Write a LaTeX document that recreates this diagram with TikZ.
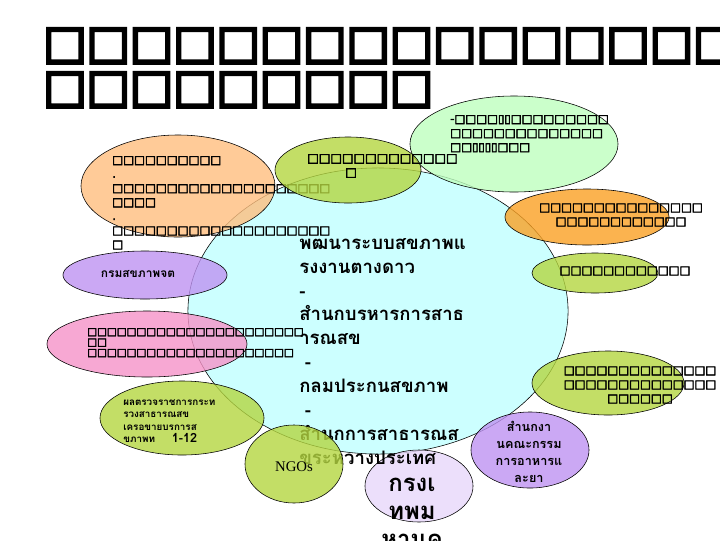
\documentclass[tikz,border=0pt]{standalone}
\usepackage{fontspec}
\setmainfont{Liberation Serif}
\newfontfamily\thaifont[Script=Thai]{Loma}
\newfontfamily\boxfont[FakeBold=4]{DejaVu Sans}
\newfontfamily\titlefont[FakeBold=6]{DejaVu Sans}
\usetikzlibrary{shapes.geometric}
\definecolor{hubcyan}{HTML}{CCFFFF}
\definecolor{peach}{HTML}{FFBF7F}
\definecolor{leafgreen}{HTML}{B4D640}
\definecolor{mintgreen}{HTML}{BFFFBF}
\definecolor{amber}{HTML}{FAA124}
\definecolor{lilac}{HTML}{BF93F2}
\definecolor{paleLilac}{HTML}{E8D7FA}
\definecolor{rose}{HTML}{F693C8}
\tikzset{
  bubble/.style 2 args={ellipse, draw=black, line width=0.4pt, inner sep=0pt,
    minimum width=#1*0.05cm, minimum height=#2*0.05cm, fill opacity=0.8},
  tofu/.style={font=\boxfont\fontsize{8.2}{10}\selectfont, inner sep=0pt, align=left},
  thai/.style={inner sep=0pt},
}
\begin{document}
\begin{tikzpicture}[x=0.025cm, y=-0.025cm]
\useasboundingbox (0,0) rectangle (720,540);
\clip (0,0) rectangle (720,540);
\fill[white] (0,0) rectangle (720,540);
% title
\node[tofu, anchor=north west, font=\titlefont\fontsize{32.6}{31.3}\selectfont] (title) at (43,28)
  {□□□□□□□□□□□□□□□□□□□□\\□□□□□□□□□};
% centre bubble
\node[bubble={190}{143}, fill=hubcyan, fill opacity=1] (hub) at (378,311) {};
\node[bubble={54}{36}, fill=paleLilac] (bkk) at (419,486) {};
\node[thai, anchor=north west, align=left, font=\thaifont\bfseries\fontsize{13.2}{17}\selectfont] (hubtext) at (299,238)
  {พฒนาระบบสขภาพแ\\รงงานตางดาว\\-\\สำนกบรหารการสาธ\\ารณสข\\\hspace*{4pt}-\\กลมประกนสขภาพ\\\hspace*{4pt}-\\สำนกการสาธารณส\\ขระหวางประเทศ};
\node[thai, anchor=north, align=center, font=\thaifont\bfseries\fontsize{17}{20}\selectfont] (bkktext) at (412,478)
  {กรงเ\\ทพม\\หานค};
% outer bubbles
\node[bubble={97}{51}, fill=peach] (mental) at (178,186) {};
\node[tofu, anchor=north west] (mentaltext) at (112,156)
  {□□□□□□□□□□\\.\\□□□□□□□□□□□□□□□□□□□□\\□□□□\\.\\□□□□□□□□□□□□□□□□□□□□\\□};
\node[bubble={104}{48}, fill=mintgreen] (mint) at (514,144) {};
\node[tofu, anchor=north west] (minttext) at (450,115)
  {-□□□□▯▯□□□□□□□□□\\□□□□□□□□□□□□□□\\□□▯▯▯▯□□□};
\node[bubble={73}{33}, fill=leafgreen] (topleaf) at (348,170) {};
\node[tofu, anchor=north west, font=\boxfont\fontsize{8.7}{10}\selectfont] (topleaftext) at (307,154)
  {□□□□□□□□□□□□□\\\hspace*{27pt}□};
\node[bubble={82}{28}, fill=amber] (amber) at (587,217) {};
\node[tofu, align=center] (ambertext) at (621,215)
  {□□□□□□□□□□□□□□□\\□□□□□□□□□□□□};
\node[bubble={63}{20}, fill=leafgreen] (rightleaf) at (595,273) {};
\node[tofu] (rightleaftext) at (625,271) {□□□□□□□□□□□□};
\node[bubble={76}{32}, fill=leafgreen] (lowleaf) at (608,383) {};
\node[tofu, align=center] (lowleaftext) at (640,385)
  {□□□□□□□□□□□□□□\\□□□□□□□□□□□□□□\\□□□□□□};
\node[bubble={59}{38}, fill=lilac] (fda) at (530,450) {};
\node[thai, align=center, font=\thaifont\bfseries\fontsize{9}{12}\selectfont] (fdatext) at (529,452)
  {สำนกงา\\นคณะกรรม\\การอาหารแ\\ละยา};
\node[bubble={100}{33}, fill=rose] (rose) at (147,344) {};
\node[tofu, anchor=north west, font=\boxfont\fontsize{7.4}{7.4}\selectfont] (rosetext) at (87,328)
  {□□□□□□□□□□□□□□□□□□□□□□\\□□\\□□□□□□□□□□□□□□□□□□□□□};
\node[bubble={82}{24}, fill=lilac] (dmh) at (145,275) {};
\node[thai, font=\thaifont\bfseries\fontsize{8.5}{10}\selectfont] (dmhtext) at (138,274) {กรมสขภาพจต};
\node[bubble={82}{37}, fill=leafgreen] (inspect) at (182,418) {};
\node[thai, anchor=north west, align=left, font=\thaifont\bfseries\fontsize{7}{9}\selectfont] (inspecttext) at (123,399)
  {ผลตรวจราชการกระท\\รวงสาธารณสข\\เครอขายบรการส\\ขภาพท\hspace{12pt}{\fontsize{9}{9}\selectfont 1-12}};
\node[bubble={49}{39}, fill=leafgreen] (ngo) at (294,464) {};
\node[font=\fontsize{10.5}{12}\selectfont, inner sep=0pt] (ngotext) at (294,467) {NGOs};
\end{tikzpicture}
\end{document}
